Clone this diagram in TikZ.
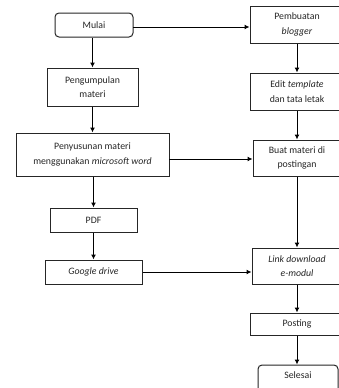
\documentclass[tikz,border=0pt]{standalone}
\usepackage{fontspec}
\setmainfont{Carlito}
\usetikzlibrary{arrows.meta}
\begin{document}
\begin{tikzpicture}[x=1pt,y=-1pt,
  box/.style={draw=black!85, line width=1pt, align=center, inner sep=0pt,
    font=\fontsize{9.8}{14.5}\selectfont, text=black!85},
  rbox/.style={box, rounded corners=4pt},
  arr/.style={line width=1pt, -{Latex[length=5pt,width=5pt]}}]
\useasboundingbox (0,0) rectangle (339,388);
\clip (0,0) rectangle (339,388);
\fill[white] (0,0) rectangle (339,388);
% left column
\node[rbox, minimum width=78pt, minimum height=24pt] (mulai) at (94,25) {Mulai};
\node[box, minimum width=91pt, minimum height=38pt] (peng) at (92.5,87) {Pengumpulan\\materi};
\node[box, minimum width=153pt, minimum height=43pt] (peny) at (92.5,154.5) {Penyusunan materi\\menggunakan \textit{microsoft word}};
\node[box, minimum width=87pt, minimum height=24pt] (pdf) at (93.5,220) {PDF};
\node[box, minimum width=97pt, minimum height=24pt] (gdrive) at (93.5,272) {\textit{Google drive}};
% right column
\node[box, minimum width=94pt, minimum height=37pt] (pemb) at (297,24.5) {Pembuatan\\\textit{blogger}};
\node[box, minimum width=94pt, minimum height=37pt] (edit) at (297,91.5) {Edit \textit{template}\\dan tata letak};
\node[box, minimum width=88pt, minimum height=36pt] (buat) at (297,158) {Buat materi di\\postingan};
\node[box, minimum width=90pt, minimum height=36pt] (link) at (297,266) {\textit{Link download}\\\textit{e-modul}};
\node[box, minimum width=94pt, minimum height=22pt] (post) at (297,324) {Posting};
\node[rbox, minimum width=80pt, minimum height=34pt] (sel) at (298,382) {};
\node[font=\fontsize{9.8}{14.5}\selectfont, text=black!85, inner sep=0pt] (seltxt) at (298,375) {Selesai};
% vertical arrows
\draw[arr] (mulai.south -| peng.north) -- (peng.north);
\draw[arr] (peng.south) -- (peng.south |- peny.north);
\draw[arr] (peny.south -| pdf.north) -- (pdf.north);
\draw[arr] (pdf.south) -- (gdrive.north);
\draw[arr] (pemb.south) -- (edit.north);
\draw[arr] (edit.south) -- (buat.north);
\draw[arr] (buat.south) -- (link.north);
\draw[arr] (link.south) -- (post.north);
\draw[arr] (post.south) -- (post.south |- sel.north);
% horizontal arrows
\coordinate (a1) at (133,27);
\draw[arr] (a1) -- (a1 -| pemb.west);
\coordinate (a2) at (169,159);
\draw[arr] (a2) -- (a2 -| buat.west);
\draw[arr] (gdrive.east) -- (gdrive.east -| link.west);
\end{tikzpicture}
\end{document}
